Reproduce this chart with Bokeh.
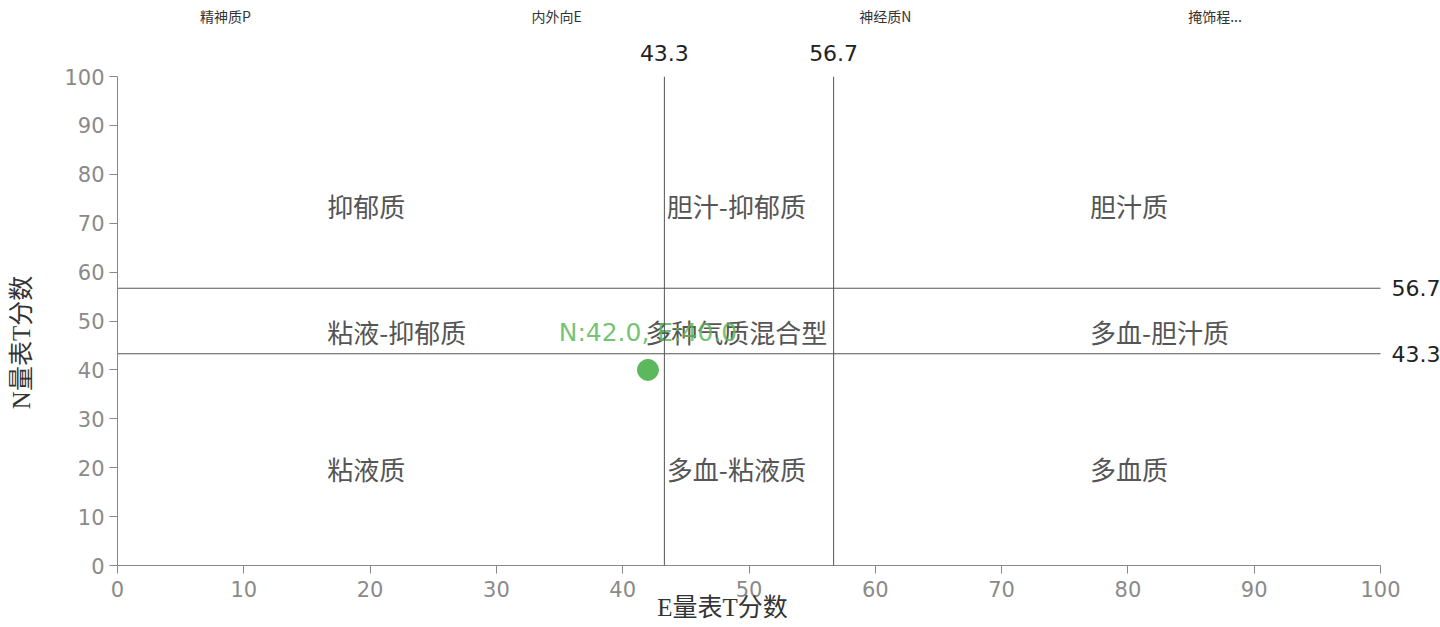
from bokeh.plotting import figure
from bokeh.models import ColumnDataSource, Span, FixedTicker, LinearAxis
from bokeh.core.properties import value
from bokeh.embed import file_html
from bokeh.resources import INLINE

# ---- data ----
tab_labels = ["精神质P", "内外向E", "神经质N", "掩饰程..."]
tab_x = [8.55, 34.76, 60.8, 86.9]

thresholds = [43.3, 56.7]
threshold_labels = ["43.3", "56.7"]

quad_names_left = ["抑郁质", "粘液-抑郁质", "粘液质"]
quad_names_mid = ["胆汁-抑郁质", "多种气质混合型", "多血-粘液质"]
quad_names_right = ["胆汁质", "多血-胆汁质", "多血质"]
quad_rows_y = [73.7, 47.9, 19.9]
quad_col_x = [16.6, 49.0, 77.0]

point_e = [42.0]
point_n = [40.0]
point_label = ["N:42.0, E:40.0"]

ticks = [0, 10, 20, 30, 40, 50, 60, 70, 80, 90, 100]
axis_min, axis_max = 0, 100

x_title = "E量表T分数"
y_title = "N量表T分数"
x_title_pos = 47.9
y_title_pos = 45.6

FONT_CJK = "Noto Sans CJK SC"
FONT_NUM = "DejaVu Sans"
SERIF = "Liberation Serif, Noto Sans CJK SC"

# frame spans x 117..1440; 0..100 occupies 117..1380 (the right labels run off the page)
x_end = axis_max * (1440 - 117) / (1380 - 117)

p = figure(width=1440, height=627, x_range=(axis_min, x_end), y_range=(axis_min, axis_max),
           output_backend="svg", toolbar_location=None,
           min_border_left=117, min_border_right=0,
           min_border_top=76, min_border_bottom=62)
p.outline_line_color = None
p.xgrid.visible = False
p.ygrid.visible = False
p.background_fill_color = "white"

for ax in (p.xaxis[0], p.yaxis[0]):
    ax.ticker = FixedTicker(ticks=ticks)
    ax.bounds = (axis_min, axis_max)
    ax.axis_line_color = "#888888"
    ax.major_tick_line_color = "#888888"
    ax.minor_tick_line_color = None
    ax.major_tick_in = 0
    ax.major_tick_out = 8
    ax.major_label_text_color = "#8a8a8a"
    ax.major_label_text_font = FONT_NUM
    ax.major_label_text_font_size = "21px"
p.xaxis.major_label_standoff = 7
p.yaxis.major_label_standoff = 5


def bare_axis(ticks_, labels_, font, size, color, standoff, style="normal"):
    ax = LinearAxis(ticker=FixedTicker(ticks=ticks_),
                    major_label_overrides={t: l for t, l in zip(ticks_, labels_)})
    ax.axis_line_color = None
    ax.major_tick_line_color = None
    ax.minor_tick_line_color = None
    ax.major_tick_out = 0
    ax.major_tick_in = 0
    ax.major_label_text_font = font
    ax.major_label_text_font_size = size
    ax.major_label_text_color = color
    ax.major_label_text_font_style = style
    ax.major_label_standoff = standoff
    return ax


# axis titles placed as single labels of bare axes
p.add_layout(bare_axis([x_title_pos], [x_title], SERIF, "25px", "#333333", -6), "below")
ytitle_axis = bare_axis([y_title_pos], [y_title], SERIF, "25px", "#333333", 26)
ytitle_axis.major_label_orientation = "vertical"
p.add_layout(ytitle_axis, "left")

# threshold lines
for t in thresholds:
    p.add_layout(Span(location=t, dimension="height", line_color="#555555", line_width=1))
hsrc = ColumnDataSource(dict(x0=[axis_min] * 2, x1=[axis_max] * 2, y=thresholds,
                             t=threshold_labels))
p.segment(x0="x0", y0="y", x1="x1", y1="y", source=hsrc, line_color="#555555", line_width=1)
p.text(x="x1", y="y", text="t", source=hsrc, x_offset=11, text_align="left",
       text_baseline="middle", text_font=value(FONT_NUM), text_font_size="22px",
       text_color="#222222")

# top threshold labels and tab labels as bare axes
p.add_layout(bare_axis(thresholds, threshold_labels, FONT_NUM, "22px", "#222222", 16), "above")
p.add_layout(bare_axis(tab_x, tab_labels, FONT_CJK, "14px", "#333333", 16), "above")

# quadrant labels
qsrc_left = ColumnDataSource(dict(x=[quad_col_x[0]] * 3, y=quad_rows_y, t=quad_names_left))
qsrc_mid = ColumnDataSource(dict(x=[quad_col_x[1]] * 3, y=quad_rows_y, t=quad_names_mid))
qsrc_right = ColumnDataSource(dict(x=[quad_col_x[2]] * 3, y=quad_rows_y, t=quad_names_right))
for src, align in ((qsrc_left, "left"), (qsrc_mid, "center"), (qsrc_right, "left")):
    p.text(x="x", y="y", text="t", source=src, text_align=align, text_baseline="middle",
           text_font=value(FONT_CJK), text_font_size="26px", text_color="#555555")

# point
psrc = ColumnDataSource(dict(x=point_e, y=point_n, t=point_label))
p.scatter(x="x", y="y", source=psrc, size=21, fill_color="#5cb85c", line_color="#5cb85c")
p.text(x="x", y="y", text="t", source=psrc, y_offset=-37, text_align="center",
       text_baseline="middle", text_font=value(FONT_NUM), text_font_size="25px",
       text_color="#5cb85c", text_alpha=0.85)

open("out.html", "w").write(file_html(p, INLINE))
